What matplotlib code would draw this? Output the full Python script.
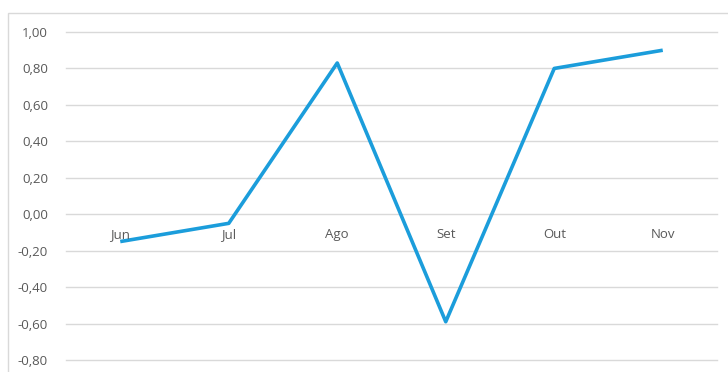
import matplotlib.pyplot as plt
from matplotlib.patches import Rectangle

months = ['Jun', 'Jul', 'Ago', 'Set', 'Out', 'Nov']
values = [-0.15, -0.05, 0.83, -0.59, 0.80, 0.90]
yticks = [-0.8, -0.6, -0.4, -0.2, 0.0, 0.2, 0.4, 0.6, 0.8, 1.0]

plt.rcParams['font.family'] = ['Open Sans', 'DejaVu Sans']

fig = plt.figure(figsize=(7.28, 3.72), dpi=100)
fig.patches.append(Rectangle((8 / 728, -0.1), 1.0, (372 - 13) / 372 + 0.1,
                             transform=fig.transFigure, fill=False,
                             edgecolor='#D9D9D9', linewidth=1))

ax = fig.add_axes([66 / 728, 12 / 372, (717 - 66) / 728, 328 / 372])
x = range(len(months))
ax.plot(x, values, color='#1B9DDB', linewidth=2.6, solid_capstyle='butt')

ax.set_xlim(-0.5, len(months) - 0.5)
ax.set_ylim(-0.8, 1.0)
ax.set_yticks(yticks)
ax.set_yticklabels([('%.2f' % v).replace('.', ',') for v in yticks])
ax.set_xticks([])
ax.tick_params(axis='y', length=0, pad=13, labelsize=9.5, labelcolor='#595959')
for v in yticks:
    ax.axhline(v, color='#D9D9D9', linewidth=1, zorder=0, clip_on=False)
for s in ax.spines.values():
    s.set_visible(False)

for i, m in enumerate(months):
    ax.text(i, -0.11, m, ha='center', va='center', fontsize=9.5, color='#595959')

fig.savefig('out.png', dpi=100)
